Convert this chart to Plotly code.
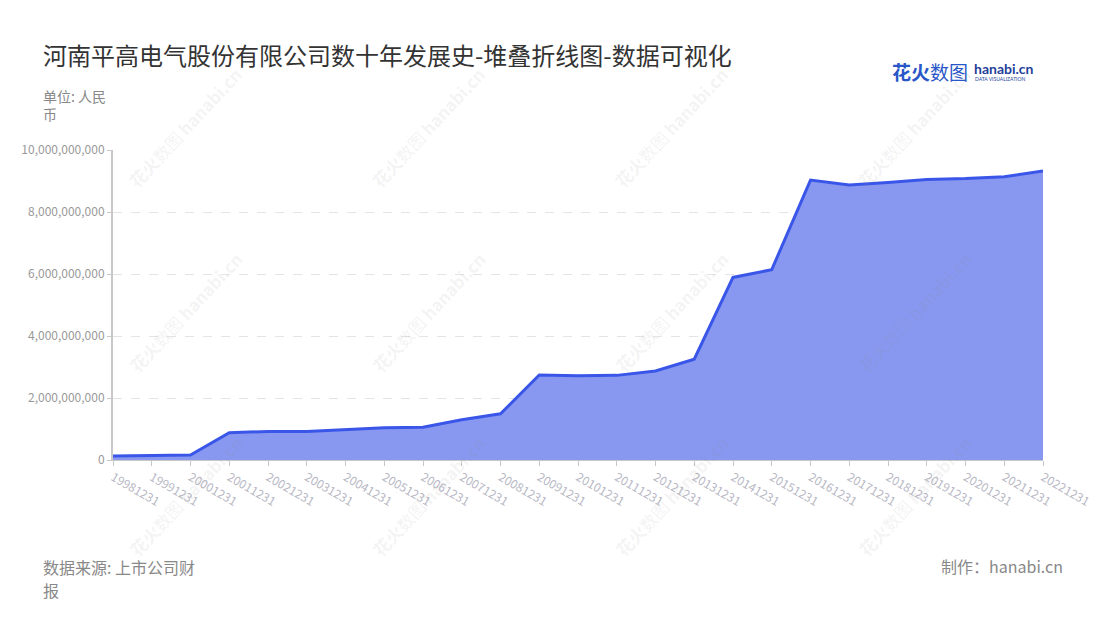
import plotly.graph_objects as go

years = [
    '19981231', '19991231', '20001231', '20011231', '20021231', '20031231',
    '20041231', '20051231', '20061231', '20071231', '20081231', '20091231',
    '20101231', '20111231', '20121231', '20131231', '20141231', '20151231',
    '20161231', '20171231', '20181231', '20191231', '20201231', '20211231',
    '20221231',
]
# 单位: 人民币
values = [
    0.13e9, 0.15e9, 0.16e9, 0.88e9, 0.92e9, 0.92e9,
    0.97e9, 1.04e9, 1.06e9, 1.30e9, 1.49e9, 2.74e9,
    2.72e9, 2.73e9, 2.87e9, 3.25e9, 5.89e9, 6.14e9,
    9.03e9, 8.87e9, 8.95e9, 9.05e9, 9.08e9, 9.14e9,
    9.32e9,
]
y_ticks = [0, 2e9, 4e9, 6e9, 8e9, 10e9]

font_cn = "Noto Sans CJK SC"

# page coords -> paper coords (plot area 113..1043 x 150..460 on screen)
def px(x):
    return (x - 113) / 930


def py(y):
    return (460 - y) / 310


fig = go.Figure()
fig.add_trace(go.Scatter(
    x=years,
    y=values,
    mode='lines',
    fill='tozeroy',
    fillcolor='#8898f0',
    line=dict(color='#3a56e8', width=3),
    showlegend=False,
    hoverinfo='x+y',
))

fig.update_layout(
    width=1100,
    height=620,
    paper_bgcolor='white',
    plot_bgcolor='white',
    margin=dict(l=105, r=65, t=142, b=168),
    font=dict(family=font_cn, color='#999999', size=12),
    xaxis=dict(
        type='category',
        range=[0, len(years) - 1],
        tickangle=30,
        tickfont=dict(color='#b8b8c4', size=12),
        showgrid=False,
        showline=True,
        linecolor='#c8c8c8',
        linewidth=1,
        ticks='outside',
        ticklen=5,
        tickcolor='#c8c8c8',
        zeroline=False,
        fixedrange=True,
    ),
    yaxis=dict(
        range=[0, 10e9],
        tickvals=y_ticks,
        tickformat=',d',
        tickfont=dict(color='#999999', size=12),
        showgrid=True,
        gridcolor='#e4e4e4',
        griddash='dash',
        showline=True,
        linecolor='#c8c8c8',
        linewidth=2,
        ticks='outside',
        ticklen=4,
        tickcolor='#c8c8c8',
        zeroline=False,
        fixedrange=True,
    ),
)

# faint tiled watermark
for wx in [185, 428, 671, 914]:
    for wy in [128, 312, 496]:
        fig.add_annotation(
            text='<b>花火</b>数图 <b>hanabi.cn</b>', xref='paper', yref='paper',
            x=px(wx), y=py(wy), xanchor='center', yanchor='middle',
            textangle=-47, showarrow=False,
            font=dict(family=font_cn, size=17, color='rgba(140,140,140,0.11)'),
        )

texts = [
    ('河南平高电气股份有限公司数十年发展史-堆叠折线图-数据可视化', 41, 54, 24, '#333333'),
    ('单位: 人民<br>币', 41, 105, 14, '#888888'),
    ('数据来源: 上市公司财', 41, 567, 16, '#888888'),
    ('报', 41, 590, 16, '#888888'),
]
for text, x, y, size, color in texts:
    fig.add_annotation(
        text=text, xref='paper', yref='paper', x=px(x), y=py(y),
        xanchor='left', yanchor='middle', align='left', showarrow=False,
        font=dict(family=font_cn, size=size, color=color),
    )

fig.add_annotation(
    text='制作：hanabi.cn', xref='paper', yref='paper',
    x=px(1065), y=py(566),
    xanchor='right', yanchor='middle', showarrow=False,
    font=dict(family=font_cn, size=16, color='#888888'),
)

# logo
fig.add_annotation(
    text='<b>花火</b>数图', xref='paper', yref='paper',
    x=px(890), y=py(72),
    xanchor='left', yanchor='middle', showarrow=False,
    font=dict(family=font_cn, size=19, color='#2a57c8'),
)
fig.add_annotation(
    text='<b>hanabi.cn</b>', xref='paper', yref='paper',
    x=px(972), y=py(68),
    xanchor='left', yanchor='middle', showarrow=False,
    font=dict(family='Lato', size=14, color='#1e3f9a'),
)
fig.add_annotation(
    text='DATA VISUALIZATION', xref='paper', yref='paper',
    x=px(973), y=py(79),
    xanchor='left', yanchor='middle', showarrow=False,
    font=dict(family='Lato', size=5, color='#1e3f9a'),
)

fig.write_html("out.html")
